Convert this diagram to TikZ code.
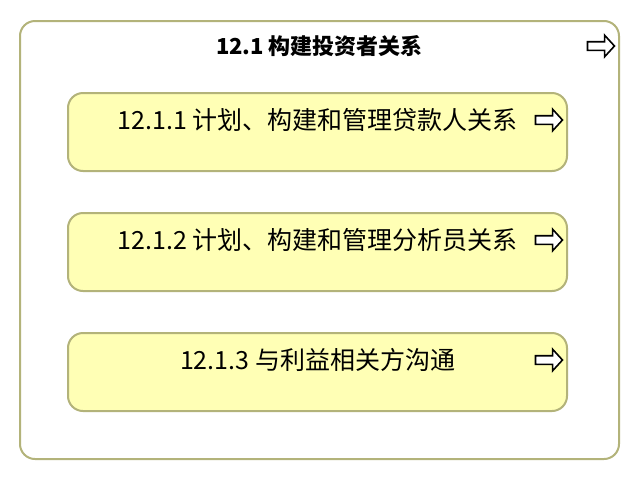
\documentclass[tikz,border=0pt]{standalone}
\usepackage{fontspec}
\setmainfont{Noto Sans CJK SC}
\usepackage{xcolor}
\usetikzlibrary{positioning,shapes.arrows}
\definecolor{boxline}{HTML}{B3B37A}
\definecolor{boxfill}{HTML}{FFFFB5}

\tikzset{
  groupbox/.style={draw=boxline, line width=2pt, rounded corners=15pt, fill=white,
    minimum width=599pt, minimum height=438pt},
  taskbox/.style={draw=boxline, line width=2pt, rounded corners=15pt, fill=boxfill,
    minimum width=499pt, minimum height=78pt},
  tasktext/.style={font=\fontsize{25}{29}\selectfont, inner sep=0pt},
  grouptext/.style={font=\bfseries\fontsize{22}{26}\selectfont, inner sep=0pt},
  flowarrow/.style={shape=single arrow, draw=black, fill=white, line width=1.6pt,
    inner sep=3.5pt, minimum width=21pt, minimum height=27pt,
    single arrow head extend=6.5pt, single arrow tip angle=95}
}

\begin{document}
\begin{tikzpicture}[x=1pt,y=-1pt,node distance=40pt]
      \useasboundingbox (0,0) rectangle (640,480);
      \node[groupbox] (grp) at (319.5,240) {};
      \node[grouptext] (grpt) at ([yshift=-26pt]grp.north) {12.1 构建投资者关系};
      \node[flowarrow] (grpa) at ([xshift=-21pt,yshift=-26pt]grp.north east) {};
      \node[taskbox] (t1) at (317.5,132) {};
      \node[taskbox] (t2) [below=of t1] {};
      \node[taskbox] (t3) [below=of t2] {};
      \node[tasktext] (t1t) at ([yshift=12pt]t1.center) {12.1.1 计划、构建和管理贷款人关系};
      \node[tasktext] (t2t) at ([yshift=12pt]t2.center) {12.1.2 计划、构建和管理分析员关系};
      \node[tasktext] (t3t) at ([yshift=12pt]t3.center) {12.1.3 与利益相关方沟通};
      \node[flowarrow] (t1a) at ([xshift=-21pt,yshift=12pt]t1.east) {};
      \node[flowarrow] (t2a) at ([xshift=-21pt,yshift=12pt]t2.east) {};
      \node[flowarrow] (t3a) at ([xshift=-21pt,yshift=12pt]t3.east) {};
    \end{tikzpicture}
\end{document}
